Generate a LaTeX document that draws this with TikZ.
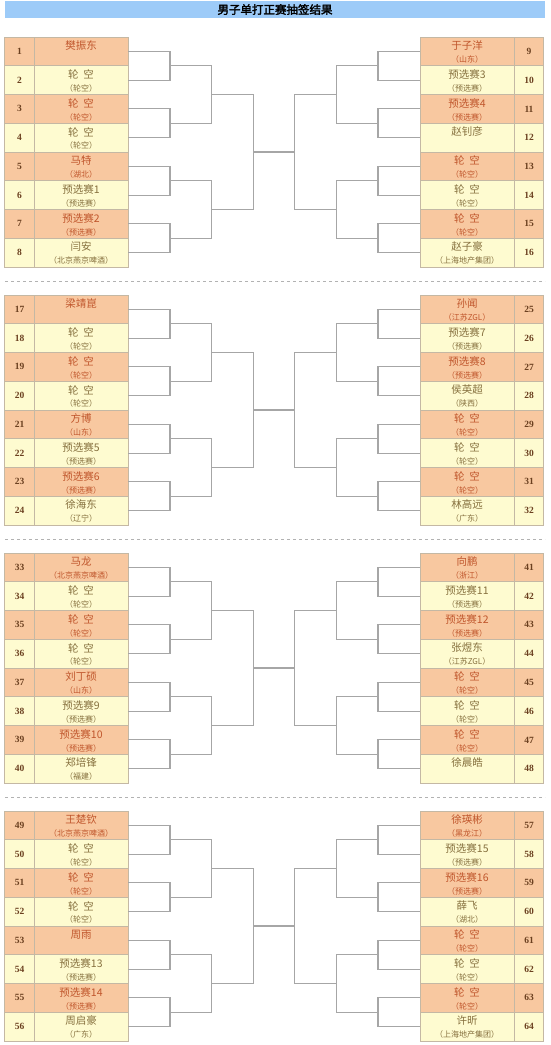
\documentclass[tikz,border=0pt]{standalone}
\usepackage{fontspec}
\usetikzlibrary{calc}
\newfontfamily\cjk[AutoFakeBold=2.5]{Noto Sans CJK SC}
\newfontfamily\numfont{Liberation Serif}
\definecolor{DrawPeach}{HTML}{F8C8A0}
\definecolor{DrawCream}{HTML}{FEFBD0}
\definecolor{DrawRust}{HTML}{C0562C}
\definecolor{DrawOlive}{HTML}{86703E}
\definecolor{DrawBrown}{HTML}{6B4020}
\definecolor{DrawSky}{HTML}{9DCBF8}
\definecolor{DrawEdge}{HTML}{C4B8A4}
\newcommand\bye{轮\hspace{.45em}空}
\newcommand\byesub{（轮空）}
\newcommand\qsub{（预选赛）}

\tikzset{
  cell/.style={draw=DrawEdge, line width=.6pt, inner sep=0pt, minimum height=28.75pt},
  namecell/.style={cell, minimum width=94pt},
  numcell/.style={cell, minimum width=29.5pt, text=DrawBrown,
    font=\numfont\bfseries\fontsize{9.5}{10}\selectfont},
  nmtext/.style={inner sep=0pt, font=\cjk\fontsize{10.5}{12}\selectfont},
  sbtext/.style={inner sep=0pt, font=\cjk\fontsize{8}{9}\selectfont},
  link/.style={draw=gray!70, line width=1.1pt},
  sep/.style={draw=gray!60, dashed, line width=.8pt},
}

\begin{document}
\begin{tikzpicture}[x=1pt,y=-1pt]
  \useasboundingbox (0,0) rectangle (550,1045);
  \node[fill=DrawSky, minimum width=540pt, minimum height=17pt, inner sep=0pt,
    font=\cjk\bfseries\fontsize{11.5}{13}\selectfont] (title) at (275,9.5) {男子单打正赛抽签结果};

  % draw cells, 16 per block, left 1-8, right 9-16
  \foreach \i/\nm/\sb in {
      1/樊振东/{}, 2/\bye/\byesub, 3/\bye/\byesub, 4/\bye/\byesub,
      5/马特/（湖北）, 6/预选赛1/\qsub, 7/预选赛2/\qsub, 8/闫安/（北京燕京啤酒）,
      9/于子洋/（山东）, 10/预选赛3/\qsub, 11/预选赛4/\qsub, 12/赵钊彦/{},
      13/\bye/\byesub, 14/\bye/\byesub, 15/\bye/\byesub, 16/赵子豪/（上海地产集团）,
      17/梁靖崑/{}, 18/\bye/\byesub, 19/\bye/\byesub, 20/\bye/\byesub,
      21/方博/（山东）, 22/预选赛5/\qsub, 23/预选赛6/\qsub, 24/徐海东/（辽宁）,
      25/孙闻/（江苏ZGL）, 26/预选赛7/\qsub, 27/预选赛8/\qsub, 28/侯英超/（陕西）,
      29/\bye/\byesub, 30/\bye/\byesub, 31/\bye/\byesub, 32/林高远/（广东）,
      33/马龙/（北京燕京啤酒）, 34/\bye/\byesub, 35/\bye/\byesub, 36/\bye/\byesub,
      37/刘丁硕/（山东）, 38/预选赛9/\qsub, 39/预选赛10/\qsub, 40/郑培锋/（福建）,
      41/向鹏/（浙江）, 42/预选赛11/\qsub, 43/预选赛12/\qsub, 44/张煜东/（江苏ZGL）,
      45/\bye/\byesub, 46/\bye/\byesub, 47/\bye/\byesub, 48/徐晨皓/{},
      49/王楚钦/（北京燕京啤酒）, 50/\bye/\byesub, 51/\bye/\byesub, 52/\bye/\byesub,
      53/周雨/{}, 54/预选赛13/\qsub, 55/预选赛14/\qsub, 56/周启豪/（广东）,
      57/徐瑛彬/（黑龙江）, 58/预选赛15/\qsub, 59/预选赛16/\qsub, 60/薛飞/（湖北）,
      61/\bye/\byesub, 62/\bye/\byesub, 63/\bye/\byesub, 64/许昕/（上海地产集团）}{
    \pgfmathtruncatemacro\k{mod(\i-1,16)}
    \pgfmathtruncatemacro\r{mod(\k,8)}
    \pgfmathsetmacro\y{37+258*int((\i-1)/16)+28.75*\r+14.375}
    \pgfmathsetmacro\xn{\k<8 ? 81 : 467}
    \pgfmathsetmacro\xm{\k<8 ? 19.5 : 529}
    \ifodd\r \def\tone{DrawCream}\def\ink{DrawOlive}\else \def\tone{DrawPeach}\def\ink{DrawRust}\fi
    \node[namecell, fill=\tone] (p\i) at (\xn,\y) {};
    \node[numcell, fill=\tone] (n\i) at (\xm,\y) {\i};
    \node[nmtext, text=\ink] (t\i) at ($(p\i.north)+(0,9)$) {\nm};
    \node[sbtext, text=\ink] (s\i) at ($(p\i.south)+(0,-6.5)$) {\sb};
  }

  % brackets
  \foreach \b in {0,...,3}{
    \foreach \s/\an/\d in {0/east/1, 8/west/-1}{
      \pgfmathtruncatemacro\f{16*\b+\s}
      \foreach \j in {1,...,4}{
        \pgfmathtruncatemacro\u{\f+2*\j-1}
        \pgfmathtruncatemacro\v{\f+2*\j}
        \coordinate (a\f-\j) at ($(p\u.\an)!.5!(p\v.\an)+(\d*41.7,0)$);
        \draw[link] (p\u.\an) -| (a\f-\j) |- (p\v.\an);
      }
      \foreach \j in {1,2}{
        \pgfmathtruncatemacro\u{2*\j-1}
        \pgfmathtruncatemacro\v{2*\j}
        \coordinate (b\f-\j) at ($(a\f-\u)!.5!(a\f-\v)+(\d*41.7,0)$);
        \draw[link] (a\f-\u) -| (b\f-\j) |- (a\f-\v);
      }
      \coordinate (c\f) at ($(b\f-1)!.5!(b\f-2)+(\d*41.7,0)$);
      \draw[link] (b\f-1) -| (c\f) |- (b\f-2);
    }
    \pgfmathtruncatemacro\l{16*\b}
    \pgfmathtruncatemacro\rr{16*\b+8}
    \draw[link] (c\l) -- (c\rr);
  }

  \foreach \y in {281,539,797}
    \draw[sep] (5,\y) -- (545,\y);
\end{tikzpicture}
\end{document}
